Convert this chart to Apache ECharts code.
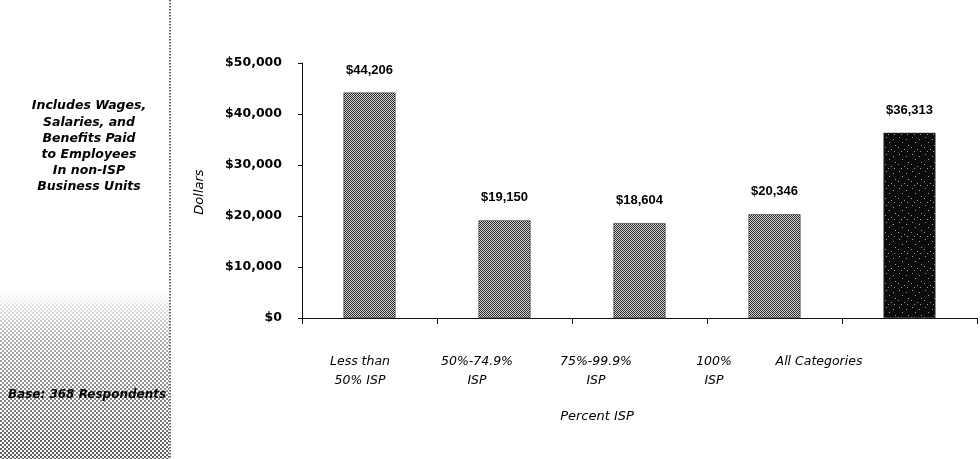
<!DOCTYPE html>
<html>
<head>
<meta charset="utf-8">
<script src="https://cdn.jsdelivr.net/npm/echarts@6/dist/echarts.min.js"></script>
<style>
  html, body { margin: 0; padding: 0; background: #fff; }
  #chart { width: 980px; height: 459px; }
</style>
</head>
<body>
<div id="chart"></div>
<script>
// Average compensation per employee by share of ISP business
var categories = ['Less than\n50% ISP', '50%-74.9%\nISP', '75%-99.9%\nISP', '100%\nISP', 'All Categories'];
var salaries = [44206, 19150, 18604, 20346, 36313];
var yTicks = [0, 10000, 20000, 30000, 40000, 50000];
var sideNote = ['Includes Wages,', 'Salaries, and', 'Benefits Paid', 'to Employees', 'In non-ISP', 'Business Units'];
var baseNote = 'Base: 368 Respondents';

// halftone-like fills built on small canvases
function checkerCanvas(dark, light) {
  var c = document.createElement('canvas');
  c.width = 4; c.height = 4;
  var g = c.getContext('2d');
  g.fillStyle = light; g.fillRect(0, 0, 4, 4);
  g.fillStyle = dark;
  for (var y = 0; y < 4; y++) {
    for (var x = 0; x < 4; x++) {
      if (((x + y) % 2) === 0) g.fillRect(x, y, 1, 1);
    }
  }
  return c;
}
function speckleCanvas() {
  var c = document.createElement('canvas');
  c.width = 13; c.height = 17;
  var g = c.getContext('2d');
  g.fillStyle = '#0b0b0b'; g.fillRect(0, 0, 13, 17);
  g.fillStyle = '#9a9a9a';
  var pts = [[2,1],[9,3],[5,6],[11,9],[1,11],[7,13],[4,15],[10,15]];
  pts.forEach(function (p) { g.fillRect(p[0], p[1], 1, 1); });
  return c;
}
function dotCanvas() {
  var c = document.createElement('canvas');
  c.width = 4; c.height = 4;
  var g = c.getContext('2d');
  g.fillStyle = '#fff'; g.fillRect(0, 0, 4, 4);
  g.fillStyle = '#333';
  g.fillRect(0, 0, 2, 2);
  g.fillRect(2, 2, 2, 2);
  return c;
}

var grayFill = { image: checkerCanvas('#2a2a2a', '#d4d4d4'), repeat: 'repeat' };
var darkFill = { image: speckleCanvas(), repeat: 'repeat' };

// shift applied to each category label (label box right padding)
var labelShift = [19, 55, 87, 121, 181];

var chart = echarts.init(document.getElementById('chart'));
var font = '"DejaVu Sans", Verdana, sans-serif';

chart.setOption({
  animation: false,
  backgroundColor: '#fff',
  grid: { left: 302, right: 3, top: 63, bottom: 141, outerBoundsMode: 'none', containLabel: false },
  xAxis: {
    type: 'category',
    data: categories.map(function (c, i) {
      return { value: c, textStyle: { padding: [0, labelShift[i], 0, 0] } };
    }),
    name: 'Percent ISP',
    nameLocation: 'middle',
    nameGap: 92,
    nameTextStyle: {
      fontFamily: font, fontStyle: 'italic', fontSize: 13, color: '#000',
      padding: [0, 85, 0, 0]
    },
    axisLine: { show: true, lineStyle: { color: '#111', width: 1 } },
    axisTick: { show: true, length: 6, lineStyle: { color: '#111', width: 1 } },
    axisLabel: {
      interval: 0, margin: 34, fontFamily: font, fontStyle: 'italic',
      fontSize: 12.5, lineHeight: 19, color: '#000'
    }
  },
  yAxis: {
    type: 'value',
    min: yTicks[0], max: yTicks[yTicks.length - 1], interval: 10000,
    axisLine: { show: true, lineStyle: { color: '#111', width: 1 } },
    axisTick: { show: true, length: 4, lineStyle: { color: '#111' } },
    splitLine: { show: false },
    axisLabel: {
      margin: 20, fontFamily: font, fontWeight: 'bold',
      fontSize: 12.5, color: '#000',
      formatter: function (v) { return '$' + v.toLocaleString('en-US'); }
    }
  },
  series: [{
    type: 'bar',
    barWidth: 52,
    data: salaries.map(function (v, i) {
      return { value: v, itemStyle: { color: i === salaries.length - 1 ? darkFill : grayFill } };
    }),
    itemStyle: { borderColor: '#333', borderWidth: 0.6 },
    label: {
      show: true, position: 'top', distance: 16,
      fontFamily: '"Liberation Sans Narrow", "Liberation Sans", Arial, sans-serif',
      fontWeight: 'bold', fontSize: 13, color: '#000',
      formatter: function (p) { return '$' + p.value.toLocaleString('en-US'); }
    }
  }],
  graphic: [
    // halftone block behind the respondent base note
    { type: 'rect', z: 0, shape: { x: 0, y: 290, width: 169, height: 169 },
      style: { fill: { image: dotCanvas(), repeat: 'repeat' } } },
    { type: 'rect', z: 1, shape: { x: 0, y: 290, width: 169, height: 169 },
      style: { fill: new echarts.graphic.LinearGradient(0, 0, 0, 1, [
        { offset: 0, color: 'rgba(255,255,255,1)' },
        { offset: 0.3, color: 'rgba(255,255,255,0.6)' },
        { offset: 1, color: 'rgba(255,255,255,0.2)' }
      ]) } },
    // dotted divider between note panel and chart
    { type: 'line', z: 2, shape: { x1: 170, y1: 0, x2: 170, y2: 459 },
      style: { stroke: '#333', lineWidth: 1.5, lineDash: [1.5, 1.5] } },
    { type: 'text', z: 3, x: 89, y: 98,
      style: {
        text: sideNote.join('\n'), align: 'center', verticalAlign: 'top',
        fontFamily: font, fontStyle: 'italic', fontWeight: 'bold',
        fontSize: 12.5, lineHeight: 16.2, fill: '#000'
      } },
    { type: 'text', z: 3, x: 87, y: 395,
      style: {
        text: baseNote, align: 'center', verticalAlign: 'middle',
        fontFamily: font, fontStyle: 'italic', fontWeight: 'bold',
        fontSize: 12, fill: '#000'
      } },
    // y-axis title
    { type: 'text', z: 3, x: 200, y: 192, rotation: Math.PI / 2,
      style: {
        text: 'Dollars', align: 'center', verticalAlign: 'middle',
        fontFamily: font, fontStyle: 'italic', fontSize: 13, fill: '#000'
      } }
  ]
});
</script>
</body>
</html>
